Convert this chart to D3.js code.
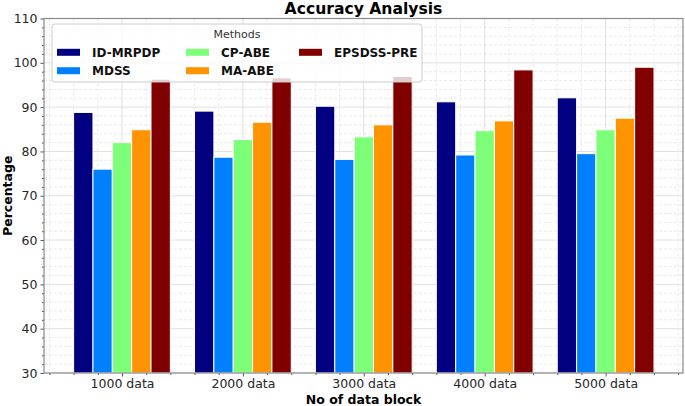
<!DOCTYPE html>
<html lang="en">
<head>
<meta charset="UTF-8">
<title>Accuracy Analysis</title>
<script src="https://d3js.org/d3.v7.min.js"></script>
<style>
    body { margin: 0; background: #fff; }
    svg { display: block; font-family: "DejaVu Sans", sans-serif; }
</style>
</head>
<body>
<svg width="685" height="406"></svg>
<script>
    const categories = ["1000 data", "2000 data", "3000 data", "4000 data", "5000 data"];
    const methods = ["ID-MRPDP", "MDSS", "CP-ABE", "MA-ABE", "EPSDSS-PRE"];
    const colors = ["#000080", "#0080ff", "#7dff7a", "#ff9400", "#800000"];
    const idMrpdp = [88.8, 89.1, 90.2, 91.2, 92.1];
    const mdss = [76.0, 78.7, 78.2, 79.2, 79.5];
    const cpAbe = [82.0, 82.7, 83.3, 84.7, 84.9];
    const maAbe = [84.9, 86.6, 86.0, 86.9, 87.5];
    const epsdssPre = [96.3, 96.6, 96.9, 98.4, 99.0];
    const yTicks = [30, 40, 50, 60, 70, 80, 90, 100, 110];

    const series = [idMrpdp, mdss, cpAbe, maAbe, epsdssPre];

    const svg = d3.select("svg");
    const pL = 44, pR = 683, pT = 18.5, pB = 373;

    const x = d3.scaleLinear().domain([-0.645, 4.64]).range([pL, pR]);
    const y = d3.scaleLinear().domain([30, 110]).range([pB, pT]);
    const barW = 0.16;

    // grid
    const grid = svg.append("g");
    const minorY = d3.range(30, 110.1, 2).filter(v => v % 10 !== 0);
    grid.selectAll(".gy").data(minorY).enter().append("line")
        .attr("x1", pL).attr("x2", pR)
        .attr("y1", d => y(d)).attr("y2", d => y(d))
        .attr("stroke", "#e4e4e4").attr("stroke-dasharray", "3,2").attr("stroke-width", 0.8);
    grid.selectAll(".gY").data(yTicks).enter().append("line")
        .attr("x1", pL).attr("x2", pR)
        .attr("y1", d => y(d)).attr("y2", d => y(d))
        .attr("stroke", "#d8d8d8").attr("stroke-width", 0.8);
    const minorX = d3.range(-0.6, 4.61, 0.2).filter(v => Math.abs(v - Math.round(v)) > 0.01);
    grid.selectAll(".gx").data(minorX).enter().append("line")
        .attr("y1", pT).attr("y2", pB)
        .attr("x1", d => x(d)).attr("x2", d => x(d))
        .attr("stroke", "#e4e4e4").attr("stroke-dasharray", "3,2").attr("stroke-width", 0.8);
    grid.selectAll(".gX").data(d3.range(categories.length)).enter().append("line")
        .attr("y1", pT).attr("y2", pB)
        .attr("x1", d => x(d)).attr("x2", d => x(d))
        .attr("stroke", "#d8d8d8").attr("stroke-width", 0.8);

    // bars
    series.forEach((vals, s) => {
        svg.append("g").selectAll("rect").data(vals).enter().append("rect")
            .attr("x", (d, i) => x(i + (s - 2) * barW - barW / 2))
            .attr("width", x(barW) - x(0))
            .attr("y", d => y(d))
            .attr("height", d => y(30) - y(d))
            .attr("fill", colors[s])
            .attr("stroke", "#fff").attr("stroke-width", 1);
    });

    // axes
    const axes = [];
    axes.push(svg.append("g").attr("transform", `translate(${pL},0)`)
        .call(d3.axisLeft(y).tickValues(yTicks).tickSize(3.5).tickPadding(3)));
    svg.append("g").attr("transform", `translate(${pL},0)`)
        .call(d3.axisLeft(y).tickValues(minorY).tickSize(2).tickFormat(""));
    axes.push(svg.append("g").attr("transform", `translate(0,${pB})`)
        .call(d3.axisBottom(x).tickValues(d3.range(categories.length))
            .tickFormat(i => categories[i]).tickSize(3.5).tickPadding(3)));
    svg.append("g").attr("transform", `translate(0,${pB})`)
        .call(d3.axisBottom(x).tickValues(minorX).tickSize(2).tickFormat(""));
    axes.forEach(a => a.attr("font-family", "DejaVu Sans").attr("font-size", 12.5)
        .selectAll("text").attr("fill", "#262626"));
    svg.selectAll(".domain").remove();
    svg.selectAll(".tick line").attr("stroke", "#555");

    // frame
    svg.append("rect").attr("x", pL).attr("y", pT)
        .attr("width", pR - pL).attr("height", pB - pT)
        .attr("fill", "none").attr("stroke", "#8a8a8a").attr("stroke-width", 1.2);

    // titles
    svg.append("text").attr("x", (pL + pR) / 2).attr("y", 14)
        .attr("text-anchor", "middle").attr("font-weight", "bold").attr("font-size", 15.6)
        .text("Accuracy Analysis");
    svg.append("text").attr("x", (pL + pR) / 2).attr("y", 404)
        .attr("text-anchor", "middle").attr("font-weight", "bold").attr("font-size", 12.5)
        .text("No of data block");
    svg.append("text").attr("transform", `translate(12,${(pT + pB) / 2}) rotate(-90)`)
        .attr("text-anchor", "middle").attr("font-weight", "bold").attr("font-size", 12.5)
        .text("Percentage");

    // legend
    const lg = svg.append("g");
    lg.append("rect").attr("x", 52).attr("y", 24).attr("width", 370).attr("height", 58)
        .attr("rx", 3).attr("fill", "#fff").attr("fill-opacity", 0.8)
        .attr("stroke", "#ccc").attr("stroke-width", 1);
    lg.append("text").attr("x", 237).attr("y", 38).attr("text-anchor", "middle")
        .attr("font-size", 11).attr("fill", "#333").text("Methods");
    const colX = [57, 186, 299];
    const rowY = [52.3, 70.7];
    methods.forEach((m, i) => {
        const c = Math.floor(i / 2), r = i % 2;
        lg.append("rect").attr("x", colX[c]).attr("y", rowY[r] - 3.5)
            .attr("width", 23).attr("height", 7).attr("fill", colors[i]);
        lg.append("text").attr("x", colX[c] + 35).attr("y", rowY[r] + 4.5)
            .attr("font-size", 12).attr("font-weight", "bold").attr("fill", "#111").text(m);
    });
</script>
</body>
</html>
